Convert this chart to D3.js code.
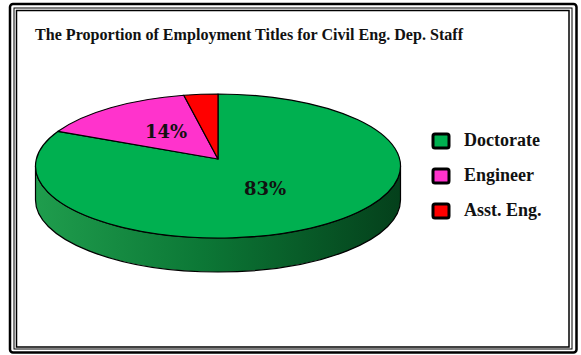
<!DOCTYPE html>
<html><head><meta charset="utf-8">
<script src="https://cdn.jsdelivr.net/npm/d3@7"></script>
<style>body{margin:0;background:#fff}svg{display:block}</style>
</head><body>
<svg id="c" width="581" height="355"></svg>
<script>
const titleText = "The Proportion of Employment Titles for Civil Eng. Dep. Staff";
const categories = ["Doctorate", "Engineer", "Asst. Eng."];
const values = [83, 14, 3];
const labels = ["83%", "14%", ""];
const colors = ["#00b050", "#ff33cc", "#ff0000"];

const svg = d3.select("#c");
// frame
svg.append("rect").attr("x",10).attr("y",4).attr("width",566.5).attr("height",348.5).attr("rx",3)
  .attr("fill","none").attr("stroke","#000").attr("stroke-width",2.5);
svg.append("rect").attr("x",14).attr("y",8).attr("width",558).attr("height",341)
  .attr("fill","none").attr("stroke","#000").attr("stroke-width",1);
svg.append("rect").attr("x",16.5).attr("y",10.5).attr("width",552.5).attr("height",336.5)
  .attr("fill","none").attr("stroke","#000").attr("stroke-width",1.5);

svg.append("text").attr("x",35).attr("y",40).text(titleText)
  .attr("font-family","'Liberation Serif', serif").attr("font-weight","bold")
  .attr("font-size",16.5).attr("fill","#111")
  .attr("textLength",428).attr("lengthAdjust","spacingAndGlyphs");

const cx = 218, cy = 166, rx = 182.5, ry = 72, depth = 34, apexY = 159;
const defs = svg.append("defs");
const g = defs.append("linearGradient").attr("id","side").attr("x1","0").attr("x2","1").attr("y1","0").attr("y2","0");
g.append("stop").attr("offset","0").attr("stop-color","#1f9d4d");
g.append("stop").attr("offset","0.45").attr("stop-color","#0c7836");
g.append("stop").attr("offset","1").attr("stop-color","#04401b");

const pie = d3.pie().sort(null).value(d => d)
  .startAngle(0).endAngle(2*Math.PI);
const arcs = pie(values);
const pt = (a, dy=0) => [cx + rx*Math.sin(a), cy - ry*Math.cos(a) + dy];

// side walls: visible front from PI/2 to 3PI/2
arcs.forEach((d,i) => {
  const a0 = Math.max(d.startAngle, Math.PI/2), a1 = Math.min(d.endAngle, 3*Math.PI/2);
  if (a1 <= a0) return;
  const p0 = pt(a0), p1 = pt(a1), q1 = pt(a1, depth), q0 = pt(a0, depth);
  const path = `M${p0}A${rx},${ry} 0 0 1 ${p1}L${q1}A${rx},${ry} 0 0 0 ${q0}Z`;
  svg.append("path").attr("d", path)
    .attr("fill", i === 0 ? "url(#side)" : d3.color(colors[i]).darker(1))
    .attr("stroke","#000").attr("stroke-width",1.2);
});

// top slices
arcs.forEach((d,i) => {
  const p0 = pt(d.startAngle), p1 = pt(d.endAngle);
  const large = (d.endAngle - d.startAngle) > Math.PI ? 1 : 0;
  const path = `M${cx},${apexY}L${p0}A${rx},${ry} 0 ${large} 1 ${p1}Z`;
  svg.append("path").attr("d", path).attr("fill", colors[i])
    .attr("stroke","#000").attr("stroke-width",1.2).attr("stroke-linejoin","round");
});

// labels
const labelPos = [[265, 188], [166, 131]];
arcs.forEach((d,i) => {
  if (!labels[i]) return;
  svg.append("text").attr("x", labelPos[i][0]).attr("y", labelPos[i][1])
    .attr("text-anchor","middle").attr("dominant-baseline","central")
    .attr("font-family","'DejaVu Serif', serif").attr("font-weight","bold")
    .attr("font-size",18).attr("fill","#111").text(labels[i]);
});

// legend
const ly = d3.scalePoint().domain(categories).range([141, 211]);
categories.forEach((c,i) => {
  const y = ly(c);
  svg.append("rect").attr("x",433).attr("y",y-7).attr("width",16).attr("height",14).attr("rx",2)
    .attr("fill",colors[i]).attr("stroke","#000").attr("stroke-width",3);
  svg.append("text").attr("x",464).attr("y",y+5).text(c)
    .attr("font-family","'Liberation Serif', serif").attr("font-weight","bold")
    .attr("font-size",18).attr("fill","#111");
});
</script>
</body></html>
